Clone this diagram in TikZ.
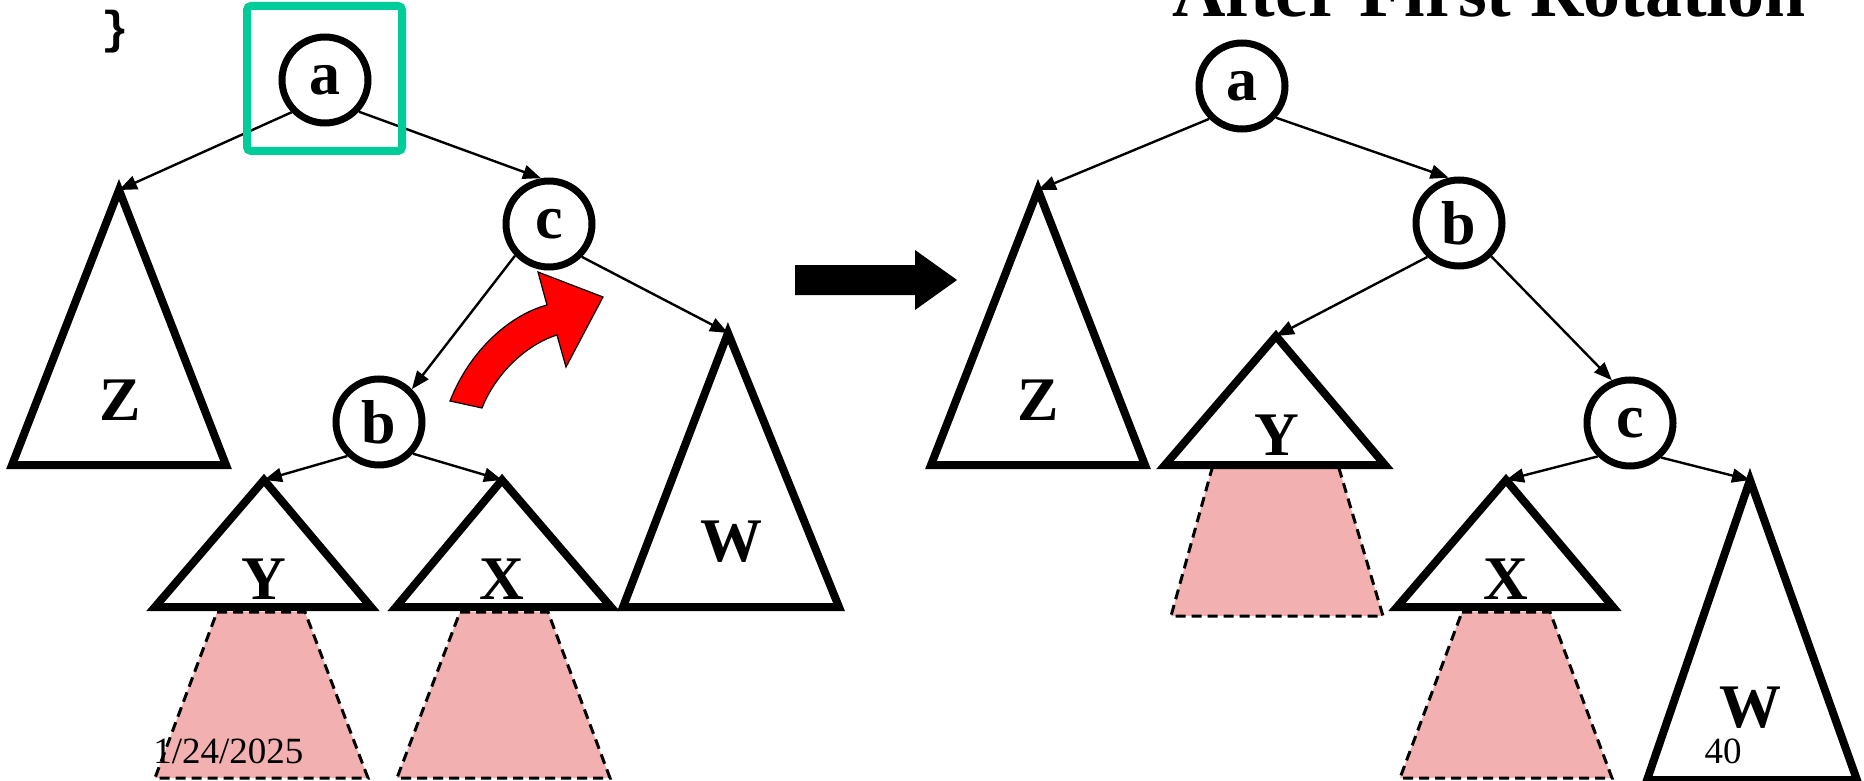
\documentclass[tikz,border=0pt]{standalone}
\usepackage{fontspec}
\setmainfont{Liberation Serif}
\setmonofont{Liberation Mono}
\usetikzlibrary{arrows.meta}
\definecolor{boxgreen}{RGB}{0,204,153}
\definecolor{hatchpink}{RGB}{242,176,176}
\tikzset{
  vert/.style={circle,draw,fill=white,line width=3.5pt,minimum size=43pt,inner sep=0pt,
    font=\fontsize{31}{31}\selectfont\bfseries},
  subtree/.style={draw,fill=white,line width=4pt,line join=miter},
  lbl/.style={inner sep=0pt,font=\fontsize{31}{31}\selectfont\bfseries},
  edge/.style={line width=1.2pt,-{Triangle[length=9pt,width=7pt]}},
  hidden/.style={fill=hatchpink,draw,line width=1.5pt,dash pattern=on 5pt off 3pt},
}
\begin{document}
\begin{tikzpicture}[x=0.5pt,y=-0.5pt]
\useasboundingbox (0,0) rectangle (1864,781);
\path
(119,190) coordinate (zL)
(264,480) coordinate (yL)
(502,480) coordinate (xL)
(728,333) coordinate (wL)
(1038,190) coordinate (zR)
(1276,336) coordinate (yR)
(1506,480) coordinate (xR)
(1750,480) coordinate (wR)
;
% hidden parts below the subtrees
\foreach \tl/\tr/\bl/\br in {217/305/155/368, 460/548/397/610, 1462/1550/1400/1612}
  \draw[hidden] (\tl,612) -- (\tr,612) -- (\br,778) -- (\bl,778) -- cycle;
\draw[hidden] (1213,465) -- (1338,465) -- (1383,616) -- (1171,616) -- cycle;
% subtrees
\draw[subtree] (zL) -- (12,465) -- (226,465) -- cycle;
\draw[subtree] (yL) -- (155,607) -- (371,607) -- cycle;
\draw[subtree] (xL) -- (396,607) -- (611,607) -- cycle;
\draw[subtree] (wL) -- (623,607) -- (839,607) -- cycle;
\draw[subtree] (zR) -- (931,465) -- (1145,465) -- cycle;
\draw[subtree] (yR) -- (1165,465) -- (1385,465) -- cycle;
\draw[subtree] (xR) -- (1397,607) -- (1613,607) -- cycle;
\draw[subtree] (wR) -- (1647,780) -- (1857,780) -- cycle;
\foreach \n/\t/\p in {lZ/Z/{120,400}, lY/Y/{264,579}, lX/X/{502,579}, lW/W/{731,542},
  rZ/Z/{1038,400}, rY/Y/{1277,435}, rX/X/{1506,579}, rW/W/{1750,708}}
  \node[lbl] (\n) at (\p) {\t};
% before the rotation
\node[vert] (a1) at (325,80) {a};
\node[vert] (c1) at (549,224) {c};
\node[vert] (b1) at (379,422) {b};
\draw[edge] (a1.224) -- (zL);
\draw[edge] (a1.-43) -- (c1.100);
\draw[edge] (c1.223) -- (b1.45);
\draw[edge] (c1.-45) -- (wL);
\draw[edge] (b1.227) -- (yL);
\draw[edge] (b1.-43) -- (xL);
\draw[boxgreen,line width=4pt,rounded corners=2pt] (247,6) rectangle (402,151);
\node[font=\ttfamily\bfseries\fontsize{23}{23}\selectfont] (brace) at (115,32) {\}};
% red turn arrow
\draw[fill=red,line width=0.6pt] (450,401) .. controls (470,350) and (510,315) .. (547,305)
  -- (538,272) -- (603,297) -- (566,367) -- (557,335)
  .. controls (525,345) and (495,375) .. (482,408) -- cycle;
% big arrow
\fill (795,265) -- (915,265) -- (915,250) -- (957,280) -- (915,310) -- (915,295) -- (795,295) -- cycle;
% after the rotation
\node[font=\fontsize{37}{37}\selectfont\bfseries,anchor=base] (title) at (1489,17) {After First Rotation};
\node[vert] (a2) at (1242,86) {a};
\node[vert] (b2) at (1459,223) {b};
\node[vert] (c2) at (1630,423) {c};
\draw[edge] (a2.225) -- (zR);
\draw[edge] (a2.-43) -- (b2.103);
\draw[edge] (b2.227) -- (yR);
\draw[edge] (b2.-46) -- (c2.113);
\draw[edge] (c2.226) -- (xR);
\draw[edge] (c2.-48) -- (wR);
\node[font=\fontsize{18.5}{18.5}\selectfont,anchor=west,inner sep=0pt] (date) at (153,751) {1/24/2025};
\node[font=\fontsize{18.5}{18.5}\selectfont,inner sep=0pt] (page) at (1723,751) {40};
\end{tikzpicture}
\end{document}
